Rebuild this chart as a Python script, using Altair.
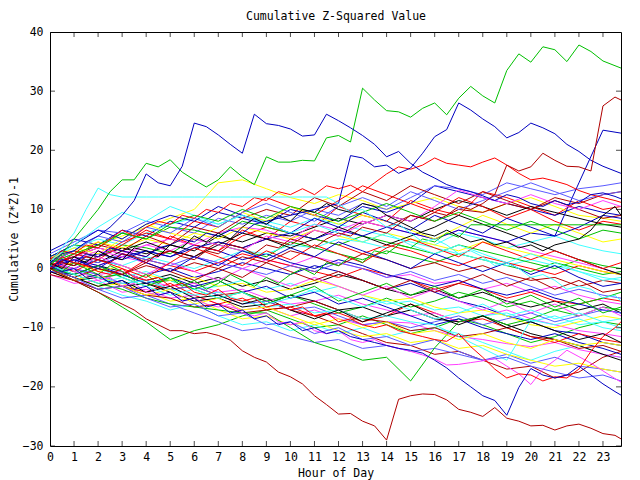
import altair as alt
import pandas as pd

# ---------------- axes / categories ----------------
HOURS_HALF = [0, 0.5, 1, 1.5, 2, 2.5, 3, 3.5, 4, 4.5, 5, 5.5, 6, 6.5, 7, 7.5,
              8, 8.5, 9, 9.5, 10, 10.5, 11, 11.5, 12, 12.5, 13, 13.5, 14, 14.5,
              15, 15.5, 16, 16.5, 17, 17.5, 18, 18.5, 19, 19.5, 20, 20.5, 21,
              21.5, 22, 22.5, 23, 23.5, 23.75]
HOURS_FULL = [0, 1, 2, 3, 4, 5, 6, 7, 8, 9, 10, 11, 12, 13, 14, 15, 16, 17,
              18, 19, 20, 21, 22, 23, 23.75]
X_TICKS = [0, 1, 2, 3, 4, 5, 6, 7, 8, 9, 10, 11, 12, 13, 14, 15, 16, 17, 18,
           19, 20, 21, 22, 23]
Y_TICKS = [-30, -20, -10, 0, 10, 20, 30, 40]
X_DOMAIN = [0, 23.75]
Y_DOMAIN = [-30, 40]

TITLE = "Cumulative Z-Squared Value"
X_TITLE = "Hour of Day"
Y_TITLE = "Cumulative (Z*Z)-1"

COLORS = {
    "red": "#ff0000", "green": "#00c000", "blue": "#0000c0",
    "magenta": "#ff40ff", "cyan": "#40ffff", "darkred": "#b00000",
    "yellow": "#ffff00", "black": "#000000", "lightblue": "#5a5aff",
}

# ---------------- prominent series (half-hour readings) ----------------
GREEN_TOP = [0.5, 2.5, 5, 7.5, 10, 13, 15, 15, 17.8, 17.2, 18.4, 16.3, 15, 13.8, 15, 17.2,
             15.5, 14.2, 18.9, 18, 18, 18.3, 18.2, 22.1, 22.5, 21.4, 30.5, 28.5, 26.7, 26.5,
             25.6, 27.1, 28, 26, 28.8, 30.8, 29.2, 28, 33.5, 36.3, 34.9, 37.5, 37, 35, 37.8,
             36.7, 35.1, 34.3, 33.9]
BLUE_B = [1, 2.5, 3, 4.5, 5.5, 7, 9, 11.5, 16, 14.5, 14, 17.3, 24.6, 24, 22.6, 21, 19.5,
          26.1, 24.5, 24.2, 23.6, 22.4, 22.6, 26.1, 25, 23.8, 22.5, 21, 18.9, 19.8, 17.8,
          16.3, 15.3, 14.2, 13.5, 13, 12.3, 11.5, 12.5, 12, 11, 10.5, 11.5, 10.8, 11.2, 12.5,
          12.8, 12.2, 11.8]
BLUE_C = [0, 1.5, 1, 2.5, 2, 3.5, 3, 2.5, 2, 3.5, 4, 5, 4.5, 6, 5.5, 6.5, 6, 7.5, 8, 8.5,
          9, 9.5, 10, 10.5, 11, 19.1, 18.7, 17.2, 17.5, 16.1, 17, 19.5, 22.3, 23.5, 28, 26.8,
          25.3, 24, 22.1, 23, 24.6, 23.8, 22.8, 21, 19.8, 18.3, 17.3, 16.5, 16.1]
DARKRED_LOW = [0, -1, -2, -3, -4, -5, -6, -7, -8.5, -9.5, -10.5, -10.5, -11, -10.8, -11.3,
               -12.1, -13.9, -15, -15.8, -17.5, -18.3, -19.5, -21.5, -23, -24.6, -24.5,
               -25.8, -26.6, -29, -22.1, -21.5, -21.2, -21.3, -22.2, -23.8, -24.3, -25,
               -23.5, -25.3, -25.8, -26.6, -26.5, -27.3, -26.6, -26.3, -27, -27.9, -28.2,
               -28.8]
BLUE_E = [0.5, -0.5, 0, -1.5, -1, -2.5, -2, -3.5, -3, -4.5, -4, -5.5, -5, -6.5, -6, -7.5,
          -7, -8.5, -8, -9.5, -9, -10.5, -10, -11, -10.5, -11.5, -12, -12.5, -13, -13.5,
          -13.8, -14.3, -15.5, -16.8, -18.5, -20, -21.5, -22.3, -24.8, -20.1, -16.9, -18,
          -18.5, -18, -16.5, -18, -19.5, -20.8, -21.4]
MAGENTA_F = [0, 1, -0.5, -1, -2, -1.5, -3, -2.5, -4, -4.5, -4, -5.5, -5, -6, -6.5, -6, -7.5,
             -8, -7.5, -9, -9.5, -9, -10.5, -11, -10.5, -12, -12.5, -12, -13, -13.5, -14,
             -14.6, -15.3, -16.3, -16.2, -15.9, -15.6, -15.2, -16.5, -17.8, -19.6, -17,
             -15.5, -13.8, -14.9, -16, -17.3, -18.6, -19.2]
RED_G = [0, 2, 1, 0.5, -0.5, -1, 0, -1.5, -2, -1.5, -3, -2.5, -4, -4.5, -3.5, -5, -5.5, -5,
         -6.5, -6, -7, -6.5, -8, -7.5, -9, -8.5, -9.5, -10, -9.5, -10.5, -11, -11.5, -12,
         -12.3, -11, -13.2, -15, -17, -18.5, -17.8, -18, -19, -18.3, -18.5, -17, -14, -11.5,
         -10, -9]
CYAN_FLAT = [1, 3.5, 6, 10, 13.6, 12.5, 12.1, 12.1, 12.1, 12.1, 12.1, 12.1, 12.1, 12.1,
             12.1, 12.1, 12.1, 12.1, 12.1, 12.1, 12.1, 12.1, 12.1, 12.1, 11, 9.5, 10, 8.5,
             7, 7.5, 6, 4.5, 5, 4, 2.5, 3, 2, 0.5, 1, 0, -1.5, -1, -2, -3.5, -3, -3.5, -5,
             -4.5, -5.5]
GREEN_FLAT = [0, -0.5, 1, 0, -1, 0.5, -0.5, -2, -1, -2.5, -1.5, -3, -2, -3.5, -2.5, -1, -2,
              -3, -1.5, -2.5, -1, 0, -1, 1, 0.5, 2, 1, 3, 2.5, 4, 3.5, 5, 4.5, 6, 5.3, 7.4,
              7.4, 7.4, 7.4, 7.4, 7.4, 7.4, 7.4, 7.4, 7.4, 7.4, 7.4, 7.4, 7.4]
DARKRED_END = [0, 1, 0.5, 2, 1.5, 1, 2.5, 2, 1, 2.5, 3, 2, 1.5, 3, 2.5, 4, 3.5, 2.5, 4, 3.5,
               5, 4.5, 3.5, 5, 6, 5.5, 7, 6.5, 6, 7.5, 9, 8.5, 9.5, 9, 10.5, 10, 11, 12.5,
               17.5, 16.5, 17.2, 19.5, 18.3, 17.3, 17.2, 16.5, 27.5, 29, 28.5]
RED_UPPER = [1.5, 3, 2.5, 4, 3.5, 5, 6.5, 5.5, 7, 8, 7.5, 9, 8.5, 10, 9.5, 11, 10.5, 12,
             11.5, 13, 12.5, 13.5, 12.5, 14, 13.5, 14.1, 13, 14.5, 16, 17.2, 16.8, 17.5,
             18.7, 17.8, 17.5, 17.2, 18, 18.7, 17.5, 16.1, 15, 15.3, 14.8, 14.2, 13.2, 12.5,
             12, 11.5, 11.2]
BLACK_MID = [1, 0, 2, 1, 3, 2, 1.5, 3.5, 3, 2, 4, 3.5, 5.5, 4.5, 6, 5, 7, 8.5, 7.5, 9, 8,
             10, 9.5, 11, 10, 9.5, 11, 10.5, 9, 8, 7, 6, 5.5, 6.5, 5.5, 4.5, 5, 4, 4.5, 3.5,
             4, 3, 4, 4.5, 5, 6.5, 9, 10.5, 9]

# ---------------- background series (hourly readings) ----------------
R1 = [0.5, 2, 4.5, 3, 2, 5.5, 4, 3, 6.5, 5, 8, 7, 10.5, 9, 8, 11.5, 10, 9, 13, 12, 10.5, 9, 11.5, 10, 10.5]
R2 = [2, 1, 0, -1, 1.5, 0.5, -0.5, 1, 2.5, 1.5, 0.5, -0.5, -1.5, 0, -1, -2, -3.5, -2.5, -3.5, -5, -4, -5.5, -6, -5, -5.5]
R3 = [-0.5, -2, -1, -3, -4, -2.5, -4.5, -6, -5, -7, -6.5, -8, -7.5, -9, -8, -6, -7.5, -9, -8.5, -10, -11.5, -12.5, -11, -12, -12.5]
R4 = [1, 3, 2, 4.5, 6, 5, 4, 3, 5.5, 7, 6, 5, 4, 2.5, 4, 3, 1.5, 0.5, 2, 1, 0, -1, 0.5, -0.5, -1]
R5 = [0, 2.5, 1.5, 4, 6.5, 5, 8, 7, 9.5, 12, 10.5, 9, 11.5, 14, 12.5, 11, 9.5, 12, 10.5, 8.5, 10, 8, 6.5, 8, 7.5]
R6 = [1, -0.5, 1.5, 0, -1.5, 1, 3.5, 2, 0.5, 3, 1.5, 4, 2.5, 1, 3.5, 5, 3.5, 2, 4.5, 3, 1.5, 3, 1.5, 0, 1]
G1 = [0, -2, -4, -6.5, -9, -12, -10.5, -9.5, -8, -7, -8.5, -10, -9.5, -8, -9.5, -11, -10, -8.5, -9.5, -11, -12.5, -11.5, -10, -9, -9.5]
G2 = [1.5, 3, 2, 4, 3.5, 2.5, 5, 4, 3, 2, 4.5, 3.5, 2.5, 1.5, 3, 2, 1, 2.5, 1.5, 0.5, -0.5, 1, 0, -1, -0.5]
G3 = [0.5, 0, -1.5, -1, -2.5, -2, -3.5, -5, -4, -5.5, -4.5, -6, -7.5, -6.5, -5, -6.5, -5.5, -4, -5, -6.5, -5.5, -7, -6, -5, -4]
G4 = [2, 4, 3.5, 6, 5, 7, 6.5, 5.5, 8, 7, 6, 5, 4, 5.5, 4.5, 3.5, 2.5, 4, 3, 2, 1, 0, 1.5, 0.5, 0]
G5 = [0, -1, -2.5, -3.5, -5, -6, -6.5, -7, -7.5, -7.5, -10, -12.5, -13.8, -15.5, -15, -19, -13.4, -9, -8, -9.5, -8.5, -7, -8, -6.5, -7]
G6 = [0.5, -1, 0.5, -1.5, -3, -1.5, -3.5, -2, -4, -6, -4.5, -3, -5.5, -4, -2.5, -4.5, -3, -5, -3.5, -6, -4.5, -6.5, -5, -7.5, -6.5]
G7 = [1, 2.5, 4, 6, 5, 7.5, 9, 8, 10, 8.5, 10.5, 9.5, 8, 9.5, 11, 9.5, 8, 9.5, 8, 6.5, 8, 6.5, 5, 6.5, 6]
B1 = [1, 0, 1.5, 0.5, -1, 0, -1.5, -0.5, 1, 0, -1, 0.5, -0.5, -2, -3.5, -2.5, -4, -5.5, -6.5, -8, -9, -10.5, -11, -12.5, -13]
B2 = [3, 5, 4, 6.5, 5.5, 8, 7, 9.5, 8.5, 7.5, 10, 9, 8, 10.5, 9.5, 11, 14, 13, 12, 11, 10, 9, 10.5, 9.5, 9]
B3 = [0, 1.5, 2.5, 1.5, 3, 2, 4, 3, 1.5, 2.5, 1, 0, 1.5, 0.5, -1, -2, -3, -2, -3.5, -4.5, -3.5, -5, -6, -7, -7.5]
B4 = [-0.5, -1, 0.5, -1, -2.5, -1.5, -3, -2, -4, -3, -5, -4, -6, -5, -6.5, -8, -9.5, -8.5, -10, -11, -12, -11, -12.5, -13.5, -14.5]
B5 = [0.5, 1.5, 0.5, 2, 3, 2, 3.5, 4.5, 3.5, 5, 6, 5, 6.5, 5.5, 7, 6, 5, 6.5, 5.5, 4.5, 6, 5.5, 14.5, 23.4, 22.9]
B6 = [2, 4, 6.5, 5, 7.5, 9, 8, 10.5, 9, 7.5, 6, 8.5, 7, 9.5, 8, 6.5, 9, 7.5, 6, 8.5, 7, 5.5, 7, 9, 8.5]
B7 = [0, 1.5, 0, 2.5, 1, -0.5, 2, 0.5, 3, 1.5, 3.5, 2, 4.5, 3, 1.5, 0, 2.5, 1, -0.5, 1, -1, 0.5, -1.5, -3, -2.5]
M1 = [0, 1.5, 0.5, 2, 1, 3, 2, 1, 0, 1.5, 0.5, 2, 1, 0, -1.5, -1, -2.5, -2, -3.5, -2.5, -4, -3, -4.5, -5.5, -6]
M2 = [-1, -2.5, -2, -4, -3.5, -5, -4.5, -6, -7, -6.5, -8, -7, -8.5, -9.5, -9, -9.2, -10.5, -11.5, -12, -12.7, -13.2, -12.5, -13.7, -14.5, -15]
M3 = [1, 0, -1, -0.5, -2, -3, -2.5, -4, -3.5, -5, -6, -5.5, -4.5, -6, -7, -8, -7.5, -9, -8, -7, -8.5, -9.5, -10.5, -11, -11.5]
M4 = [0.5, 2, 3.5, 2.5, 4, 5, 4, 6, 7, 6.5, 5, 7.5, 6.5, 8, 7, 6, 5, 6.5, 5.5, 4.5, 3, 2, 1, 0, -1]
M5 = [1, 0, 2, 0.5, -1, 1, -0.5, -2, 0, -1.5, -3, -1.5, -3, -4.5, -3, -5, -3.5, -5.5, -7, -5.5, -7.5, -6, -8, -6.5, -8]
M6 = [0, 1.5, 3, 2, 4, 3, 5, 4, 3, 5.5, 4.5, 6.5, 5.5, 7.5, 9, 8, 10.5, 13.3, 12, 11, 12.5, 11, 10, 11.5, 10.5]
C1 = [0, -1.5, -3, -4.5, -5.5, -7, -6, -8, -9.5, -9, -10.5, -9.5, -11, -10, -11.5, -10.5, -10, -11, -12.5, -14, -15.5, -14, -13, -14.5, -15]
C2 = [2, 3.5, 5, 4, 6, 7.5, 8.5, 7.5, 9, 8, 7, 8.5, 7.5, 6.5, 5.5, 4.5, 3.5, 2.5, 1.5, 0.5, 1.5, 0.5, -0.5, -1.5, -2]
C3 = [0.5, -1, 0, -1.5, -0.5, -2, -3.5, -3, -2, -3.5, -2.5, -4, -3, -4.5, -6, -5.5, -7, -6.5, -8, -7.5, -9, -8, -9.5, -9, -10]
C4 = [1, 2.5, 1.5, 0.5, 2, 1, 0, 1.5, 3, 2.5, 4, 3.5, 5, 4.5, 3.5, 5, 4, 6, 5, 3.5, 4.5, 5.5, 4, 3, 2.5]
C5 = [0.5, -0.5, -1.5, -2.5, -2, -3.5, -4.5, -4, -5.5, -6.5, -6, -7.5, -7, -8.5, -8, -9, -9.5, -11.5, -13.5, -15.5, -8.7, -9.5, -8.5, -10, -10.5]
C6 = [1.5, 4, 7, 9.5, 8, 10.5, 9, 7.5, 9, 7.5, 6, 7.5, 6, 4.5, 6, 4, 2.5, 4, 2.5, 1, 2.5, 1, -0.5, -2, -1.5]
C7 = [0.5, -1, -2.5, -1.5, -3, -4.5, -3.5, -5, -4, -6, -5, -3.5, -5, -6.5, -5.5, -7, -8.5, -7.5, -6, -8, -7, -8.5, -7.5, -9, -8.5]
D1 = [0.5, -0.5, -1.5, -1, -2.5, -3.5, -3, -4.5, -4, -5.5, -7, -8, -9.5, -11, -12.5, -13, -14.5, -14, -15.5, -17, -16.5, -18.5, -17.5, -15, -14]
D2 = [1, 2, 3.5, 2.5, 1.5, 3, 2, 4.5, 3.5, 5, 4, 6.5, 5.5, 8, 7, 9, 8, 10, 9.5, 11, 10, 12, 11, 12.5, 13]
D3 = [0, 1, 0, -1, 0.5, -0.5, 1, 0, 2, 1, 3, 2, 0.5, 2.5, 1.5, 0, 1, -0.5, 0.5, -1, -2, -1.5, -3, -2, -2.5]
D4 = [-1, -2, -3.5, -3, -4.5, -5, -6.5, -6, -7.5, -7, -6.5, -5.5, -7, -8.5, -9, -10.5, -10, -11.5, -11, -10, -11.5, -12, -13.5, -13, -14]
D5 = [0.5, 2, 4, 3, 5.5, 4, 7, 6, 8.5, 10, 9, 12, 10.5, 13, 11.5, 14, 12.5, 11, 13, 11.5, 10, 11.5, 10, 8.5, 9]
D6 = [0, -1.5, 0, -1, 1, -0.5, -2, 0, -1.5, 1, -0.5, -2, -0.5, -2, -3.5, -2, -4, -2.5, -1, -3, -1.5, -3.5, -2, -4, -3.5]
Y1 = [1, 2.5, 4, 5.5, 7, 8.5, 10, 14.5, 15, 13.5, 12, 11, 12.5, 11.5, 10, 11, 12, 10.5, 9.5, 11, 12, 10.5, 9, 8.5, 8]
Y2 = [0, -1.5, -3, -2.5, -4, -5.5, -5, -7, -8.5, -8, -9.5, -9, -10.5, -11.5, -11, -12.5, -12, -13.5, -13, -14.5, -15.5, -16.5, -16, -17, -17.5]
Y3 = [0.5, 1, -0.5, 0.5, -1, -2, -1.5, -3, -2.5, -4, -3.5, -2, -3, -4.5, -5.5, -5, -6.5, -7.5, -7, -8, -9.5, -10, -9, -8, -8.5]
Y4 = [2, 3, 4.5, 3.5, 5, 4, 6, 5, 7, 6, 5, 6.5, 5.5, 4.5, 6, 5, 4, 3, 4.5, 3.5, 2.5, 1.5, 0.5, -0.5, -1]
Y5 = [1.5, 3.5, 2.5, 5, 7.5, 6, 5, 7, 9.5, 8, 10.5, 9, 7.5, 9, 8, 6.5, 5, 7, 9, 7.5, 6, 7.5, 6, 4.5, 5]
Y6 = [0, -2, -1, -3, -4.5, -3.5, -6, -5, -7, -6.5, -8, -9.5, -8.5, -10, -9, -11, -10.5, -12, -11, -12.5, -13.5, -12, -13, -12.5, -13]
K1 = [0, -1, 0.5, -0.5, -2, -1, -2.5, -1.5, -3, -2, -3.5, -2.5, -1, -2, -3.5, -4.5, -3.5, -5, -4, -5.5, -6.5, -5.5, -7, -6, -7.5]
K2 = [1.5, 0.5, 2, 3.5, 2.5, 4, 3, 5.5, 4.5, 6, 5.5, 7, 8.5, 7.5, 9, 8, 10, 11.5, 10.5, 9, 10.5, 9.5, 8.5, 7.5, 7]
K3 = [-0.5, -2, -1.5, -3, -2.5, -4, -5.5, -5, -6.5, -6, -4.5, -5.5, -7, -6.5, -8, -7, -8.5, -9, -8, -9.5, -11, -12, -13, -14.5, -15.5]
K4 = [0.5, 2, 1, 3, 4.5, 3, 2, 4, 6, 5, 3.5, 5, 7, 5.5, 4, 5.5, 7, 9, 7.5, 6, 4.5, 3, 1.5, 0, -1]
K5 = [0, -1.5, -3, -2, -4, -3, -5, -4.5, -6, -5, -7, -8.5, -7, -9, -7.5, -6, -8, -9.5, -8, -10, -9, -10.5, -12, -11, -12.5]
L1 = [0, -2, -3.5, -5, -4.5, -6, -7.5, -9, -10.5, -10, -11.5, -12.5, -12, -13.5, -13, -14, -13.5, -14.5, -15.5, -14.5, -16, -15, -16.5, -17, -17.5]
L2 = [2.5, 4.5, 6.5, 6, 8, 7, 6, 8.5, 7.5, 9, 8, 10, 9, 11, 10, 12, 14, 13.5, 12.5, 14.5, 13.5, 12.5, 13.5, 14, 14.5]
L3 = [0.5, 0, -1, -2.5, -2, -3.5, -3, -4.5, -6, -5.5, -7, -6.5, -8, -9.5, -9, -10, -9, -8, -9.5, -8.5, -7.5, -9, -8, -7, -7.5]
L4 = [1, 2, 1, 2.5, 1.5, 0.5, 2, 1, 0, -1, 0.5, -0.5, 1, 0, -1.5, -0.5, -2, -1, -2.5, -1.5, -3, -4.5, -3.5, -4.5, -5]
L5 = [1, 3, 5.5, 4.5, 7, 6, 8.5, 7, 9.5, 11, 9.5, 8, 10.5, 12, 10.5, 13, 11.5, 10, 11.5, 13, 14.5, 13, 11.5, 12.5, 13]
L6 = [0, -1.5, -3.5, -3, -5, -6.5, -6, -8, -7.5, -9.5, -9, -11, -10, -12, -11.5, -13, -12, -14, -15.5, -15, -16.5, -17.5, -18.5, -18, -19]

SERIES = [
    ("r1", "red", R1), ("g1", "green", G1), ("b1", "blue", B1), ("m1", "magenta", M1),
    ("c1", "cyan", C1), ("d1", "darkred", D1), ("y1", "yellow", Y1), ("k1", "black", K1),
    ("l1", "lightblue", L1),
    ("r2", "red", R2), ("g2", "green", G2), ("b2", "blue", B2), ("m2", "magenta", M2),
    ("c2", "cyan", C2), ("d2", "darkred", D2), ("y2", "yellow", Y2), ("k2", "black", K2),
    ("l2", "lightblue", L2),
    ("r3", "red", R3), ("g3", "green", G3), ("b3", "blue", B3), ("m3", "magenta", M3),
    ("c3", "cyan", C3), ("d3", "darkred", D3), ("y3", "yellow", Y3), ("k3", "black", K3),
    ("l3", "lightblue", L3),
    ("r4", "red", R4), ("g4", "green", G4), ("b4", "blue", B4), ("m4", "magenta", M4),
    ("c4", "cyan", C4), ("d4", "darkred", D4), ("y4", "yellow", Y4), ("k4", "black", K4),
    ("l4", "lightblue", L4),
    ("r5", "red", R5), ("g5", "green", G5), ("b5", "blue", B5), ("m5", "magenta", M5),
    ("c5", "cyan", C5), ("d5", "darkred", D5), ("y5", "yellow", Y5), ("k5", "black", K5),
    ("l5", "lightblue", L5),
    ("r6", "red", R6), ("g6", "green", G6), ("b6", "blue", B6), ("m6", "magenta", M6),
    ("c6", "cyan", C6), ("d6", "darkred", D6), ("y6", "yellow", Y6), ("l6", "lightblue", L6),
    ("g7", "green", G7), ("b7", "blue", B7), ("c7", "cyan", C7),
    ("red_upper", "red", RED_UPPER), ("green_flat", "green", GREEN_FLAT),
    ("blue_c", "blue", BLUE_C), ("magenta_f", "magenta", MAGENTA_F),
    ("cyan_flat", "cyan", CYAN_FLAT), ("darkred_end", "darkred", DARKRED_END),
    ("black_mid", "black", BLACK_MID), ("red_g", "red", RED_G),
    ("green_top", "green", GREEN_TOP), ("blue_b", "blue", BLUE_B),
    ("blue_e", "blue", BLUE_E), ("darkred_low", "darkred", DARKRED_LOW),
]

rows = []
for i, (name, col, vals) in enumerate(SERIES):
    hrs = HOURS_HALF if len(vals) == len(HOURS_HALF) else HOURS_FULL
    assert len(vals) == len(hrs), (name, len(vals))
    for j, (h, v) in enumerate(zip(hrs, vals)):
        rows.append({"hour": h, "value": v, "series": f"{i:02d}_{name}",
                     "color": COLORS[col], "ord": j})
df = pd.DataFrame(rows)

FONT = "DejaVu Sans Mono"
FS = 11.5

xscale = alt.Scale(domain=X_DOMAIN, nice=False, zero=False)
yscale = alt.Scale(domain=Y_DOMAIN, nice=False, zero=False)

common = dict(ticks=False, tickSize=0, domain=False, grid=False,
              labelFont=FONT, labelFontSize=FS, labelColor="black",
              labelFlush=False, labelOverlap=False, titleFont=FONT,
              titleFontSize=FS, titleFontWeight="normal", titleColor="black")

xaxis = alt.Axis(orient="bottom", values=X_TICKS, title=X_TITLE, labelPadding=5,
                 titleX=285.5, titleY=30, titleBaseline="alphabetic",
                 titleAlign="center", **common)
# top axis used only to carry the chart title above the plot
topaxis = alt.Axis(orient="top", values=X_TICKS, title=TITLE, labels=False,
                   titleX=285.5, titleY=-13, titleBaseline="alphabetic",
                   titleAlign="center", **common)
yaxis = alt.Axis(orient="left", values=Y_TICKS, title=Y_TITLE, labelPadding=7,
                 titleX=-36, titleY=207, titleAngle=270, titleBaseline="middle",
                 titleAlign="center", **common)

lines = alt.Chart(df).mark_line(strokeWidth=1, clip=True).encode(
    x=alt.X("hour:Q", scale=xscale, axis=xaxis),
    y=alt.Y("value:Q", scale=yscale, axis=yaxis),
    color=alt.Color("color:N", scale=None),
    detail="series:N",
    order="ord:Q",
)

xt = pd.DataFrame([{"hour": h, "value": yv} for h in X_TICKS for yv in Y_DOMAIN])
yt = pd.DataFrame([{"hour": xv, "value": v} for v in Y_TICKS for xv in X_DOMAIN])

xticks = alt.Chart(xt).mark_tick(orient="vertical", size=10, thickness=1,
                                 color="black", clip=True).encode(
    x=alt.X("hour:Q", scale=xscale, axis=topaxis),
    y=alt.Y("value:Q", scale=yscale, axis=yaxis),
)
yticks = alt.Chart(yt).mark_tick(orient="horizontal", size=10, thickness=1,
                                 color="black", clip=True).encode(
    x=alt.X("hour:Q", scale=xscale, axis=None),
    y=alt.Y("value:Q", scale=yscale, axis=yaxis),
)

chart = alt.layer(lines, xticks, yticks).resolve_axis(x="independent").properties(
    width=571, height=414,
    padding={"left": 42, "top": 24, "right": 11, "bottom": 34},
    autosize=alt.AutoSizeParams(type="none"),
    background="white",
).configure_view(stroke="black", strokeWidth=1)

chart.save("out.html", embed_options={"renderer": "svg", "actions": False})
